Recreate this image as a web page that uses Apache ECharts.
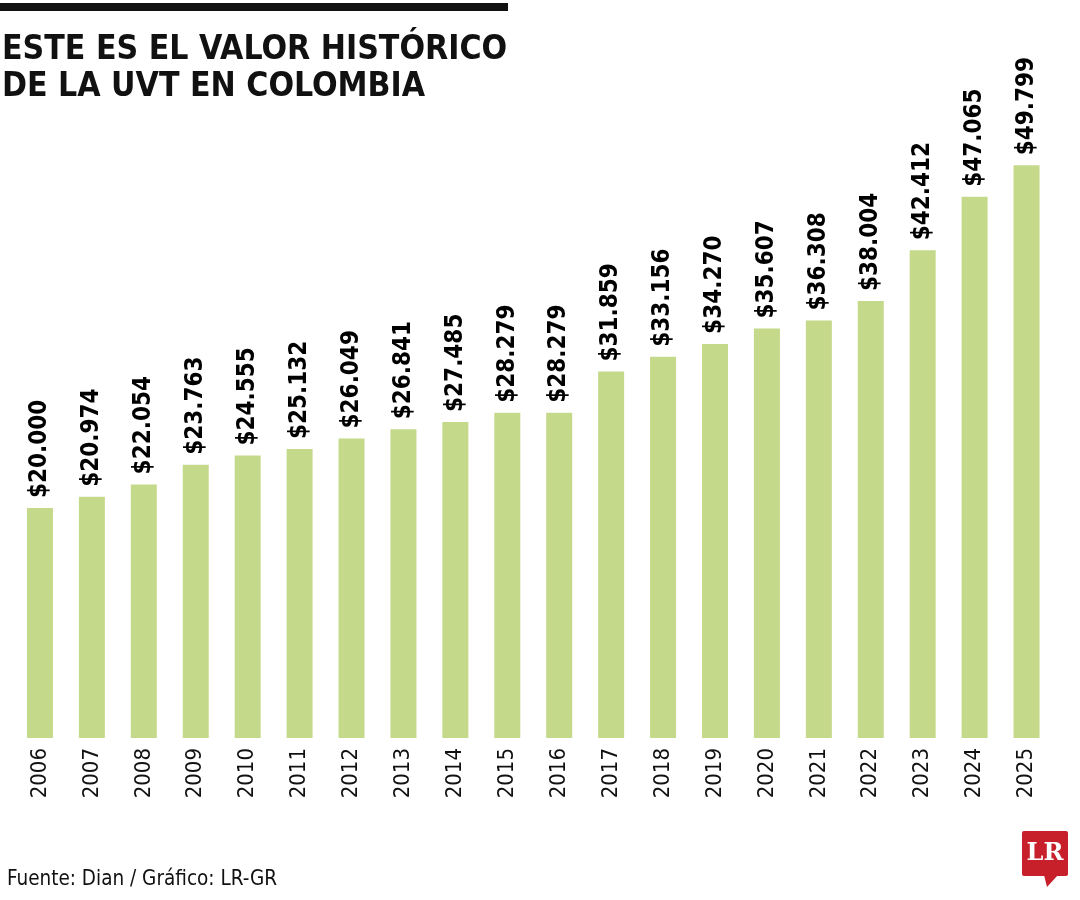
<!DOCTYPE html>
<html>
<head>
<meta charset="utf-8">
<script src="https://cdn.jsdelivr.net/npm/echarts@6/dist/echarts.min.js"></script>
<style>
html,body{margin:0;padding:0;background:#fff;}
#chart{width:1080px;height:900px;}
</style>
</head>
<body>
<div id="chart"></div>
<script>
const titleLines = ['ESTE ES EL VALOR HISTÓRICO', 'DE LA UVT EN COLOMBIA'];
const sourceText = 'Fuente: Dian / Gráfico: LR-GR';
const years = ['2006','2007','2008','2009','2010','2011','2012','2013','2014','2015','2016','2017','2018','2019','2020','2021','2022','2023','2024','2025'];
const uvtValues = [20000,20974,22054,23763,24555,25132,26049,26841,27485,28279,28279,31859,33156,34270,35607,36308,38004,42412,47065,49799];

const barColor = '#c5d98a';
const condensed = "'Liberation Sans Narrow','DejaVu Sans Condensed',sans-serif";

function fmt(v){
  return '$' + String(v).replace(/\B(?=(\d{3})+(?!\d))/g, '.');
}

const chart = echarts.init(document.getElementById('chart'), null, {renderer:'canvas'});
chart.setOption({
  animation:false,
  backgroundColor:'#ffffff',
  grid:{left:14, right:27.5, top:48, bottom:162, containLabel:false},
  xAxis:{
    type:'category',
    data:years,
    axisLine:{show:false},
    axisTick:{show:false},
    axisLabel:{
      rotate:90,
      margin:10,
      color:'#111',
      fontSize:22,
      fontFamily:condensed,
      fontWeight:'normal'
    }
  },
  yAxis:{
    type:'value',
    min:0,
    max:60000,
    show:false,
    splitLine:{show:false}
  },
  series:[{
    type:'bar',
    data:uvtValues,
    barWidth:26,
    itemStyle:{color:barColor},
    label:{
      show:true,
      position:'top',
      rotate:90,
      align:'left',
      verticalAlign:'middle',
      distance:10,
      color:'#000',
      fontSize:24,
      fontWeight:'bold',
      fontFamily:condensed,
      formatter:p=>fmt(p.value)
    }
  }],
  graphic:[
    {type:'rect', shape:{x:0,y:3,width:508,height:8}, style:{fill:'#111'}},
    {type:'text', x:2, y:33, style:{text:titleLines[0], font:"bold 33.5px 'Liberation Sans Narrow','DejaVu Sans Condensed',sans-serif", fill:'#111', textVerticalAlign:'top'}},
    {type:'text', x:2, y:70, style:{text:titleLines[1], font:"bold 33.5px 'Liberation Sans Narrow','DejaVu Sans Condensed',sans-serif", fill:'#111', textVerticalAlign:'top'}},
    {type:'text', x:7, y:869, style:{text:sourceText, font:"20.5px 'Liberation Sans Narrow','DejaVu Sans Condensed',sans-serif", fill:'#111', textVerticalAlign:'top'}},
    {type:'rect', shape:{x:1022,y:831,width:46,height:45,r:2}, style:{fill:'#c8202a'}},
    {type:'polygon', shape:{points:[[1044,875],[1058,875],[1047,887]]}, style:{fill:'#c8202a'}},
    {type:'text', x:1045, y:854, style:{text:'LR', font:"bold 24px 'DejaVu Serif','Liberation Serif',serif", fill:'#fff', textAlign:'center', textVerticalAlign:'middle'}}
  ]
});
</script>
</body>
</html>
